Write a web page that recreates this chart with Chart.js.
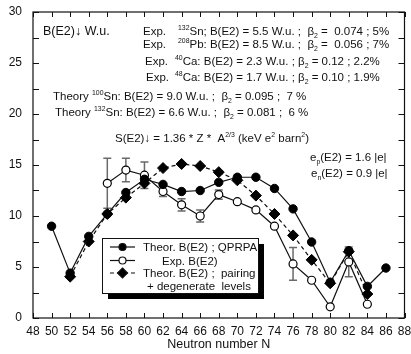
<!DOCTYPE html>
<html>
<head>
<meta charset="utf-8">
<script src="https://cdn.jsdelivr.net/npm/chart.js@4"></script>
<style>
  html, body { margin: 0; padding: 0; background: #fff; }
  #wrap { width: 411px; height: 354px; }
</style>
</head>
<body>
<div id="wrap"><canvas id="be2Chart" width="411" height="354"></canvas></div>
<script>
// ---------- data ----------
const neutronN   = [50, 52, 54, 56, 58, 60, 62, 64, 66, 68, 70, 72, 74, 76, 78, 80, 82, 84, 86];
const theorQprpa = [9.0, 4.4, 8.0, 10.2, 12.3, 13.6, 13.1, 12.4, 12.5, 13.3, 13.8, 13.8, 12.7, 10.7, 7.45, 3.5, 6.6, 3.1, 4.9];
const theorPair  = [null, 4.05, 7.5, 10.2, 11.8, 13.2, 14.7, 15.1, 14.9, 14.3, 13.5, 12.0, 10.2, 8.1, 5.7, 3.4, 6.5, 2.35, null];
const expBE2     = [null, null, null, 13.2, 14.5, 14.0, 12.4, 11.1, 10.0, 12.1, 11.4, 10.6, 9.0, 5.3, 3.7, 1.1, 5.5, 1.35, null];
const expErr     = [null, null, null, 2.45, 1.15, 1.3, 0.5, 0.6, 0.6, 0.45, 0, 0, 0, 1.6, 0, 0, 1.45, 0, null];

const xTicks = { min: 48, max: 88, step: 2 };
const yTicks = { min: 0, max: 30, step: 2.5, labelEvery: 5 };

const legendLabels = ["Theor. B(E2) ; QPRPA", "Exp. B(E2)", "Theor. B(E2) ;  pairing", "+ degenerate  levels"];

const FONT = "'Liberation Sans', Arial, sans-serif";
const INK = "#111";

function toPoints(values) {
    return neutronN.map((n, i) => ({ x: n, y: values[i] }));
}

// draws a line of text with sup and sub pieces, parts = [[text, mode], ...]
function drawRich(ctx, x, y, parts, size) {
    ctx.save();
    ctx.textBaseline = "alphabetic";
    ctx.textAlign = "left";
    ctx.fillStyle = INK;
    let cx = x;
    parts.forEach(([t, mode]) => {
        let s = size, dy = 0;
        if (mode === "sup") { s = size * 0.6; dy = -size * 0.42; }
        if (mode === "sub") { s = size * 0.6; dy = size * 0.28; }
        ctx.font = `${s}px ${FONT}`;
        ctx.fillText(t, cx, y + dy);
        cx += ctx.measureText(t).width;
    });
    ctx.restore();
}

// frame + inward ticks on all four sides
const framePlugin = {
    id: "frame",
    afterDatasetsDraw(chart) {
        const { ctx, chartArea: a, scales: { x, y } } = chart;
        ctx.save();
        ctx.strokeStyle = INK;
        ctx.lineWidth = 1.2;
        ctx.strokeRect(a.left, a.top, a.right - a.left, a.bottom - a.top);
        ctx.lineWidth = 1;
        ctx.beginPath();
        x.ticks.forEach(t => {
            const px = Math.round(x.getPixelForValue(t.value)) + 0.5;
            ctx.moveTo(px, a.bottom); ctx.lineTo(px, a.bottom - 5);
            ctx.moveTo(px, a.top); ctx.lineTo(px, a.top + 5);
        });
        y.ticks.forEach(t => {
            const py = Math.round(y.getPixelForValue(t.value)) + 0.5;
            ctx.moveTo(a.left, py); ctx.lineTo(a.left + 6, py);
            ctx.moveTo(a.right, py); ctx.lineTo(a.right - 6, py);
        });
        ctx.stroke();
        ctx.restore();
    }
};

// vertical error bars for the experimental points (behind the markers)
const errorBarPlugin = {
    id: "errorBars",
    beforeDatasetsDraw(chart) {
        const { ctx, scales: { x, y } } = chart;
        ctx.save();
        ctx.strokeStyle = "#6a6a6a";
        ctx.lineWidth = 1.5;
        ctx.beginPath();
        neutronN.forEach((n, i) => {
            const v = expBE2[i], e = expErr[i];
            if (v == null || !e) return;
            const px = x.getPixelForValue(n);
            const top = y.getPixelForValue(v + e), bot = y.getPixelForValue(v - e);
            ctx.moveTo(px, top); ctx.lineTo(px, bot);
            ctx.moveTo(px - 4, top); ctx.lineTo(px + 4, top);
            ctx.moveTo(px - 4, bot); ctx.lineTo(px + 4, bot);
        });
        ctx.stroke();
        ctx.restore();
    }
};

// annotation texts and the boxed legend with its drop shadow
const notesPlugin = {
    id: "notes",
    afterDraw(chart) {
        const ctx = chart.ctx;
        const fs = 11.5;

        drawRich(ctx, 43, 35, [["B(E2)", ""], ["\u2193", ""], [" W.u.", ""]], 12.5);

        drawRich(ctx, 143, 35, [["Exp.", ""]], fs);
        drawRich(ctx, 178, 35, [["132", "sup"], ["Sn; B(E2) = 5.5 W.u. ;  \u03B2", ""], ["2", "sub"], [" =  0.074 ; 5%", ""]], fs);
        drawRich(ctx, 143, 48, [["Exp.", ""]], fs);
        drawRich(ctx, 178, 48, [["208", "sup"], ["Pb: B(E2) = 8.5 W.u. ;  \u03B2", ""], ["2", "sub"], [" =  0.056 ; 7%", ""]], fs);
        drawRich(ctx, 145, 65, [["Exp.", ""]], fs);
        drawRich(ctx, 175, 65, [["40", "sup"], ["Ca: B(E2) = 2.3 W.u. ; \u03B2", ""], ["2", "sub"], [" = 0.12 ; 2.2%", ""]], fs);
        drawRich(ctx, 146, 81, [["Exp.", ""]], fs);
        drawRich(ctx, 175, 81, [["48", "sup"], ["Ca: B(E2) = 1.7 W.u. ; \u03B2", ""], ["2", "sub"], [" = 0.10 ; 1.9%", ""]], fs);

        drawRich(ctx, 53, 100, [["Theory ", ""], ["100", "sup"], ["Sn: B(E2) = 9.0 W.u. ;  \u03B2", ""], ["2", "sub"], [" = 0.095 ;  7 %", ""]], fs);
        drawRich(ctx, 55, 116, [["Theory ", ""], ["132", "sup"], ["Sn: B(E2) = 6.6 W.u. ;  \u03B2", ""], ["2", "sub"], [" = 0.081 ;  6 %", ""]], fs);

        drawRich(ctx, 115, 142, [["S(E2)", ""], ["\u2193", ""], [" = 1.36 * Z *  A", ""], ["2/3", "sup"], [" (keV e", ""], ["2", "sup"], [" barn", ""], ["2", "sup"], [")", ""]], fs);

        drawRich(ctx, 310, 161, [["e", ""], ["p", "sub"], ["(E2) = 1.6 |e|", ""]], fs);
        drawRich(ctx, 311, 177, [["e", ""], ["n", "sub"], ["(E2) = 0.9 |e|", ""]], fs);

        // legend box
        const bx = 102, by = 238, bw = 156, bh = 55;
        ctx.save();
        ctx.fillStyle = "#000";
        ctx.fillRect(bx + 6, by + 6, bw, bh);
        ctx.fillStyle = "#fff";
        ctx.fillRect(bx, by, bw, bh);
        ctx.strokeStyle = INK;
        ctx.lineWidth = 1;
        ctx.strokeRect(bx + 0.5, by + 0.5, bw, bh);

        const rows = [247, 260.5, 273, 285.5];
        const ds = chart.data.datasets;
        [0, 1, 2].forEach(k => {
            const d = ds[k];
            const ly = rows[k];
            ctx.beginPath();
            ctx.setLineDash(d.borderDash || []);
            ctx.strokeStyle = INK;
            ctx.lineWidth = 1.2;
            ctx.moveTo(110, ly); ctx.lineTo(135, ly);
            ctx.stroke();
            ctx.setLineDash([]);
            ctx.beginPath();
            if (d.pointStyle === "rectRot") {
                ctx.moveTo(122.5, ly - 5); ctx.lineTo(127.5, ly); ctx.lineTo(122.5, ly + 5); ctx.lineTo(117.5, ly);
                ctx.closePath();
            } else {
                ctx.arc(122.5, ly, 3.5, 0, Math.PI * 2);
            }
            ctx.fillStyle = d.pointBackgroundColor;
            ctx.fill();
            ctx.stroke();
        });
        ctx.restore();

        drawRich(ctx, 143, rows[0] + 4, [[legendLabels[0], ""]], fs);
        drawRich(ctx, 162, rows[1] + 4, [[legendLabels[1], ""]], fs);
        drawRich(ctx, 143, rows[2] + 4, [[legendLabels[2], ""]], fs);
        drawRich(ctx, 147, rows[3] + 4, [[legendLabels[3], ""]], fs);
    }
};

new Chart(document.getElementById("be2Chart"), {
    type: "line",
    data: {
        datasets: [
            {
                label: legendLabels[0],
                data: toPoints(theorQprpa),
                borderColor: INK, borderWidth: 1.2,
                pointStyle: "circle", pointRadius: 4.2,
                pointBackgroundColor: "#000", pointBorderColor: "#000", pointBorderWidth: 1
            },
            {
                label: legendLabels[1],
                data: toPoints(expBE2),
                borderColor: INK, borderWidth: 1.2,
                pointStyle: "circle", pointRadius: 4,
                pointBackgroundColor: "#fff", pointBorderColor: "#000", pointBorderWidth: 1.2
            },
            {
                label: legendLabels[2],
                data: toPoints(theorPair),
                borderColor: INK, borderWidth: 1.2, borderDash: [4, 3],
                pointStyle: "rectRot", pointRadius: 5.5,
                pointBackgroundColor: "#000", pointBorderColor: "#000", pointBorderWidth: 1
            }
        ]
    },
    options: {
        responsive: false,
        animation: false,
        layout: { padding: { top: 12, right: 2, left: 0, bottom: 0 } },
        plugins: { legend: { display: false }, tooltip: { enabled: false } },
        elements: { line: { tension: 0 } },
        scales: {
            x: {
                type: "linear",
                min: xTicks.min, max: xTicks.max,
                grid: { display: false, drawTicks: false },
                border: { display: false },
                ticks: { stepSize: xTicks.step, autoSkip: false, maxRotation: 0, padding: 6, color: INK, font: { family: FONT, size: 12 } },
                title: { display: true, text: "Neutron number N", color: INK, font: { family: FONT, size: 12.5 }, padding: { top: 2, bottom: 2 } },
                afterFit(scale) {
                    scale.height = 36;
                    scale.paddingLeft = 0;
                    scale.paddingRight = 0;
                }
            },
            y: {
                min: yTicks.min, max: yTicks.max,
                grid: { display: false, drawTicks: false },
                border: { display: false },
                ticks: {
                    stepSize: yTicks.step, autoSkip: false, padding: 11, color: INK,
                    font: { family: FONT, size: 12 },
                    callback: v => (v % yTicks.labelEvery === 0 ? v : "")
                },
                afterFit(scale) {
                    scale.width = 33;
                    scale.paddingTop = 0;
                    scale.paddingBottom = 0;
                }
            }
        }
    },
    plugins: [errorBarPlugin, framePlugin, notesPlugin]
});
</script>
</body>
</html>
